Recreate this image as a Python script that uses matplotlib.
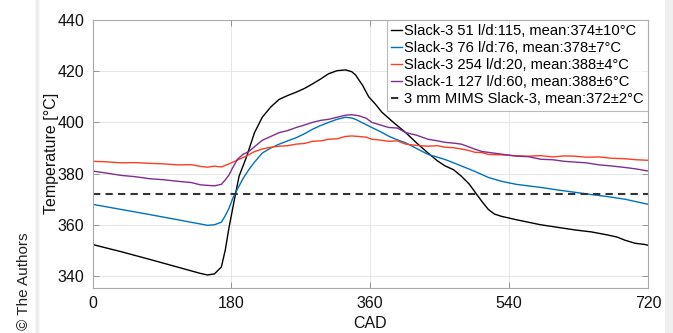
import matplotlib
matplotlib.use("Agg")
import matplotlib.pyplot as plt
from matplotlib.lines import Line2D
from matplotlib.patches import Rectangle

plt.rcParams['font.family'] = ['Liberation Sans', 'DejaVu Sans']

# ---- data ----
cad_black = [0, 37, 74, 110, 140, 149, 158, 167, 172, 177, 184, 190, 199, 210, 220, 231, 242, 253, 264, 275, 285, 296, 306, 317, 328, 336, 341, 350, 358, 367, 375, 390, 406, 420, 435, 447, 457, 468, 478, 488, 496, 505, 513, 521, 530, 539, 549, 565, 581, 603, 625, 647, 668, 680, 690, 703, 716, 720]
temp_black = [352.3, 349.5, 346.5, 343.5, 341.0, 340.4, 340.8, 343.5, 350, 359, 370, 379, 386, 396, 402, 406, 409, 410.5, 411.8, 413.3, 415, 417, 419, 420.2, 420.5, 419.8, 418.5, 414.5, 410, 407, 404, 400, 396, 392, 388, 385, 383, 381.5, 379, 376, 372.7, 369, 366, 364.2, 363.3, 362.7, 362, 361, 360, 359, 358, 357.2, 356, 355.2, 354, 352.8, 352.3, 352]

cad_blue = [0, 37, 74, 110, 140, 149, 158, 167, 172, 177, 182, 188, 195, 203, 210, 220, 231, 242, 253, 264, 275, 285, 296, 306, 317, 328, 336, 341, 350, 362, 373, 384, 395, 406, 420, 435, 457, 478, 496, 513, 530, 549, 565, 581, 603, 625, 647, 668, 690, 705, 720]
temp_blue = [368, 366, 364, 362, 360.3, 359.8, 360, 361, 363.5, 366.5, 370.5, 374, 378, 381.7, 384.5, 388, 390, 391.5, 392.8, 394, 395.6, 397.3, 398.8, 400, 401.2, 402, 401.7, 401.2, 399.8, 398, 396.4, 394.6, 393.2, 392, 389.8, 387.5, 385.5, 383, 380.8, 378.5, 377, 375.8, 375.2, 374.6, 373.6, 372.7, 371.8, 371, 370, 369, 368]

cad_red = [0, 18, 37, 55, 74, 92, 110, 128, 140, 149, 158, 167, 177, 188, 199, 210, 220, 231, 242, 253, 264, 275, 285, 296, 306, 317, 328, 336, 345, 355, 362, 373, 384, 395, 406, 420, 435, 447, 457, 468, 478, 488, 496, 505, 513, 530, 549, 565, 581, 597, 611, 625, 640, 657, 672, 690, 705, 720]
temp_red = [384.8, 384.6, 384.2, 384.3, 384.0, 383.8, 383.4, 383.5, 382.8, 382.5, 382.9, 382.6, 383.8, 385.3, 386.8, 388.6, 389.6, 390.3, 390.7, 390.9, 391.5, 391.8, 392.6, 392.8, 393.4, 393.6, 394.5, 394.7, 394.5, 394.2, 393.4, 393.1, 392.6, 392.8, 391.5, 391.0, 390.7, 390.9, 390.3, 390.1, 389.6, 389.0, 388.3, 388.2, 387.5, 387.3, 387.0, 386.8, 387.0, 386.5, 386.9, 386.8, 386.4, 386.5, 386.0, 385.8, 385.4, 385.2]

cad_purple = [0, 18, 37, 55, 74, 92, 110, 128, 140, 149, 158, 167, 172, 177, 182, 188, 195, 203, 210, 220, 231, 242, 253, 264, 275, 285, 296, 306, 317, 328, 336, 345, 355, 362, 373, 384, 395, 406, 420, 435, 447, 457, 468, 478, 488, 496, 505, 513, 530, 549, 565, 581, 597, 611, 625, 640, 657, 672, 690, 705, 720]
temp_purple = [381, 380.2, 379.3, 378.8, 378.0, 377.6, 377.0, 376.5, 375.6, 375.4, 375.2, 375.8, 377.5, 379.5, 382.5, 385.6, 387.5, 388.7, 390.5, 393.0, 394.5, 396.0, 396.8, 398.0, 399.0, 400.0, 400.8, 401.2, 402.0, 402.8, 403.0, 402.6, 401.6, 400.0, 399.0, 398.0, 397.8, 396.0, 395.0, 393.4, 392.8, 392.2, 391.9, 391.5, 390.4, 389.5, 388.6, 388.3, 387.6, 386.8, 386.6, 385.6, 385.4, 384.8, 384.5, 384.2, 383.4, 383.0, 382.4, 381.8, 381]

mims_mean = 372

labels = [
    "Slack-3 51 l/d:115, mean:374\u00b110\u00b0C",
    "Slack-3 76 l/d:76, mean:378\u00b17\u00b0C",
    "Slack-3 254 l/d:20, mean:388\u00b14\u00b0C",
    "Slack-1 127 l/d:60, mean:388\u00b16\u00b0C",
    "3 mm MIMS Slack-3, mean:372\u00b12\u00b0C",
]
colors = ["#000000", "#0072BD", "#FF3D1F", "#7E2F8E", "#333333"]

xticks = [0, 180, 360, 540, 720]
yticks = [340, 360, 380, 400, 420, 440]

# ---- figure ----
fig = plt.figure(figsize=(6.73, 3.33), dpi=100)

# page background: light grey strip on the right, soft shadow on the left
fig.add_artist(Rectangle((665 / 673, 0), 8 / 673, 1, transform=fig.transFigure,
                         facecolor='#EFEFEF', edgecolor='none', zorder=0))
for i, g in enumerate(['#F6F6F6', '#F0F0F0', '#EAEAEA', '#F1F1F1', '#F8F8F8']):
    fig.add_artist(Line2D([(35 + i) / 673] * 2, [0, 1], transform=fig.transFigure,
                          color=g, lw=0.8, zorder=0))

ax = fig.add_axes([92.5 / 673, 0.1366, (648 - 92.5) / 673, 0.8034])

ax.plot(cad_black, temp_black, color=colors[0], lw=1.0, label=labels[0])
ax.plot(cad_blue, temp_blue, color=colors[1], lw=1.0, label=labels[1])
ax.plot(cad_red, temp_red, color=colors[2], lw=1.0, label=labels[2])
ax.plot(cad_purple, temp_purple, color=colors[3], lw=1.0, label=labels[3])
ax.axhline(mims_mean, color=colors[4], lw=1.5, ls=(0, (3.5, 2.5)), label=labels[4])

ax.set_xlim(0, 720)
ax.set_ylim(335.5, 440)
ax.set_xticks(xticks)
ax.set_yticks(yticks)
ax.tick_params(direction='in', top=True, right=True, labelsize=11.5,
               length=4, width=0.6, color='#888888', labelcolor='#111111', pad=6)
ax.grid(True, color='#E6E6E6', lw=0.7)
ax.set_axisbelow(True)
for s in ax.spines.values():
    s.set_color('#A8A8A8')
    s.set_linewidth(0.8)

ax.set_xlabel("CAD", fontsize=11.5, labelpad=4, color='#111111')
ax.set_ylabel("Temperature [\u00b0C]", fontsize=11.5, labelpad=-1, color='#111111')

leg = ax.legend(loc='upper right', fontsize=10.6, handlelength=0.7, handletextpad=0.15,
                borderpad=0.3, labelspacing=0.2, borderaxespad=0.0,
                frameon=True, fancybox=False, bbox_to_anchor=(1.0, 1.0))
leg.get_frame().set_edgecolor('#A8A8A8')
leg.get_frame().set_linewidth(0.8)

fig.text(0.036, 0.01, "\u00a9 The Authors", rotation=90, fontsize=11,
         color='#222222', ha='center', va='bottom')

fig.savefig("out.png", dpi=100)
